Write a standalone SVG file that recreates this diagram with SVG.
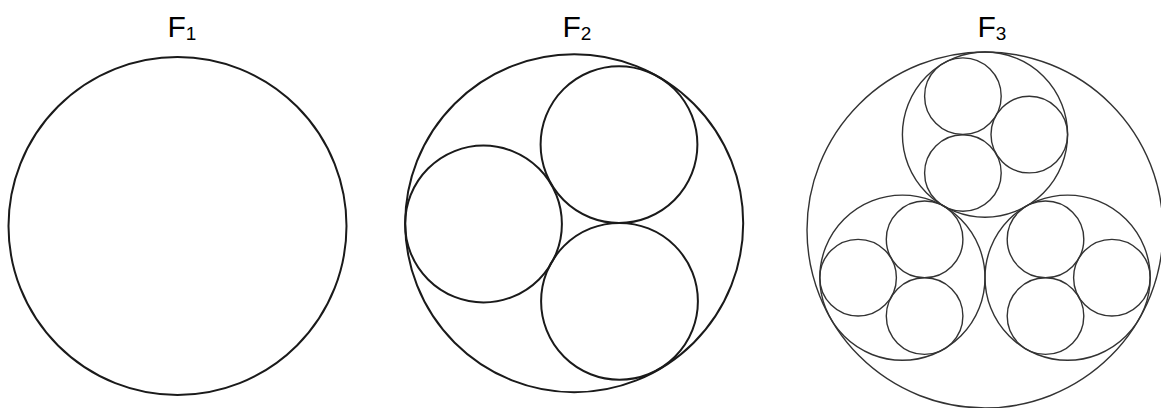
<svg xmlns="http://www.w3.org/2000/svg" width="1161" height="408" viewBox="0 0 1161 408">
<style>
.lbl{font-family:"Liberation Sans",Arial,sans-serif;font-size:30px;fill:#000}
.sub{font-size:19px}
.thick{fill:none;stroke:#1a1a1a;stroke-width:2}
.thin{fill:none;stroke:#333;stroke-width:1.4}
</style>
<rect width="1161" height="408" fill="#fff"/>
<g id="F1">
<text class="lbl" x="167.5" y="37">F<tspan class="sub" dy="3.3">1</tspan></text>
<circle class="thick" cx="177.5" cy="226" r="169"/>
</g>
<g id="F2">
<text class="lbl" x="562.5" y="37">F<tspan class="sub" dy="3.3">2</tspan></text>
<circle class="thick" cx="574.2" cy="223.2" r="169"/>
<circle class="thick" cx="483.5" cy="224" r="78.4"/>
<circle class="thick" cx="619" cy="144.6" r="78.4"/>
<circle class="thick" cx="619.5" cy="301.3" r="78.4"/>
</g>
<g id="F3">
<text class="lbl" x="977.5" y="37">F<tspan class="sub" dy="3.3">3</tspan></text>
<circle class="thin" cx="985" cy="230" r="178"/>
<g id="F3-top">
<circle class="thin" cx="985" cy="134.6" r="82.6"/>
<circle class="thin" cx="962.9" cy="96.2" r="38.3"/>
<circle class="thin" cx="962.9" cy="173" r="38.3"/>
<circle class="thin" cx="1029.3" cy="134.6" r="38.3"/>
</g>
<g id="F3-left">
<circle class="thin" cx="902.4" cy="277.7" r="82.6"/>
<circle class="thin" cx="924.6" cy="239.3" r="38.3"/>
<circle class="thin" cx="924.6" cy="316.1" r="38.3"/>
<circle class="thin" cx="858.1" cy="277.7" r="38.3"/>
</g>
<g id="F3-right">
<circle class="thin" cx="1067.6" cy="277.7" r="82.6"/>
<circle class="thin" cx="1045.5" cy="239.3" r="38.3"/>
<circle class="thin" cx="1045.5" cy="316.1" r="38.3"/>
<circle class="thin" cx="1111.9" cy="277.7" r="38.3"/>
</g>
</g>
<g id="connectors"></g>
</svg>
